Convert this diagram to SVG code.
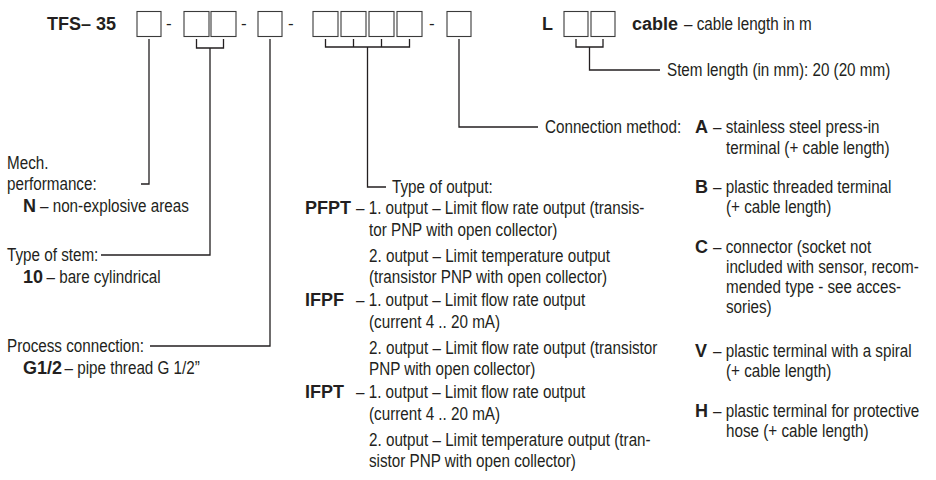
<svg xmlns="http://www.w3.org/2000/svg" width="936" height="480" viewBox="0 0 936 480">
<style>
text{font-family:"Liberation Sans",Arial,sans-serif;font-size:17.5px;fill:#231f20}
.b{font-weight:bold;font-size:18px}
.d{font-size:17px}
.box{fill:none;stroke:#3a3a3a;stroke-width:1.1}
.ln{fill:none;stroke:#231f20;stroke-width:1.3}
</style>
<rect width="936" height="480" fill="#fff"/>
<g id="code">
<text x="47" y="30" class="b" font-size="17.5">TFS– 35</text>
<rect class="box" x="137" y="11.5" width="24" height="25"/>
<text x="166" y="29" class="d">-</text>
<rect class="box" x="184" y="11.5" width="25" height="25"/>
<rect class="box" x="211" y="11.5" width="25" height="25"/>
<text x="241" y="29" class="d">-</text>
<rect class="box" x="258" y="11.5" width="24" height="25"/>
<text x="288" y="29" class="d">-</text>
<rect class="box" x="313" y="11.5" width="25" height="25"/>
<rect class="box" x="341" y="11.5" width="25" height="25"/>
<rect class="box" x="369" y="11.5" width="25" height="25"/>
<rect class="box" x="397" y="11.5" width="25" height="25"/>
<text x="429" y="29" class="d">-</text>
<rect class="box" x="447" y="11.5" width="24" height="25"/>
<text x="542" y="30" class="b" font-size="17">L</text>
<rect class="box" x="564" y="11.5" width="24" height="25"/>
<rect class="box" x="591" y="11.5" width="24" height="25"/>
</g>
<g id="cable">
<text x="632" y="30" class="b" font-size="20">cable</text>
<text transform="translate(684 30) scale(.87 1)" font-size="21">– cable length in m</text>
</g>
<g id="stem-length">
<text transform="translate(667 76) scale(.87 1)">Stem length (in mm): 20 (20 mm)</text>
</g>
<g id="mech">
<text transform="translate(7 169) scale(.87 1)">Mech.</text>
<text transform="translate(7 190) scale(.87 1)">performance:</text>
<text x="23" y="212" class="b">N</text>
<text transform="translate(40 212) scale(.87 1)">– non-explosive areas</text>
</g>
<g id="stem-type">
<text transform="translate(7 261) scale(.87 1)">Type of stem:</text>
<text x="23" y="283" class="b">10</text>
<text transform="translate(46.5 283) scale(.87 1)">– bare cylindrical</text>
</g>
<g id="process">
<text transform="translate(7 352) scale(.87 1)">Process connection:</text>
<text x="23" y="374" class="b">G1/2</text>
<text transform="translate(64.5 374) scale(.87 1)">– pipe thread G 1/2”</text>
</g>
<g id="output">
<text transform="translate(392 193) scale(.87 1)">Type of output:</text>
<text x="305" y="214" class="b">PFPT</text>
<text transform="translate(356 214) scale(.87 1)">– 1. output – Limit flow rate output (transis-</text>
<text transform="translate(369 236) scale(.87 1)">tor PNP with open collector)</text>
<text transform="translate(369 262) scale(.87 1)">2. output – Limit temperature output</text>
<text transform="translate(369 283) scale(.87 1)">(transistor PNP with open collector)</text>
<text x="305" y="306" class="b">IFPF</text>
<text transform="translate(356 306) scale(.87 1)">– 1. output – Limit flow rate output</text>
<text transform="translate(369 328) scale(.87 1)">(current 4 .. 20 mA)</text>
<text transform="translate(369 354) scale(.87 1)">2. output – Limit flow rate output (transistor</text>
<text transform="translate(369 375) scale(.87 1)">PNP with open collector)</text>
<text x="305" y="398" class="b">IFPT</text>
<text transform="translate(356 398) scale(.87 1)">– 1. output – Limit flow rate output</text>
<text transform="translate(369 420) scale(.87 1)">(current 4 .. 20 mA)</text>
<text transform="translate(369 446) scale(.87 1)">2. output – Limit temperature output (tran-</text>
<text transform="translate(369 467) scale(.87 1)">sistor PNP with open collector)</text>
</g>
<g id="connection">
<text transform="translate(545 133) scale(.87 1)">Connection method:</text>
<text x="695" y="133" class="b">A</text>
<text transform="translate(713 133) scale(.87 1)">– stainless steel press-in</text>
<text transform="translate(726 154) scale(.87 1)">terminal (+ cable length)</text>
<text x="695" y="193" class="b">B</text>
<text transform="translate(713 193) scale(.87 1)">– plastic threaded terminal</text>
<text transform="translate(726 213) scale(.87 1)">(+ cable length)</text>
<text x="695" y="253" class="b">C</text>
<text transform="translate(713 253) scale(.87 1)">– connector (socket not</text>
<text transform="translate(726 273) scale(.87 1)">included with sensor, recom-</text>
<text transform="translate(726 293) scale(.87 1)">mended type - see acces-</text>
<text transform="translate(726 313) scale(.87 1)">sories)</text>
<text x="695" y="357" class="b">V</text>
<text transform="translate(713 357) scale(.87 1)">– plastic terminal with a spiral</text>
<text transform="translate(726 377) scale(.87 1)">(+ cable length)</text>
<text x="695" y="417" class="b">H</text>
<text transform="translate(713 417) scale(.87 1)">– plastic terminal for protective</text>
<text transform="translate(726 437) scale(.87 1)">hose (+ cable length)</text>
</g>
<g id="connectors" class="ln">
<path d="M149 39V184H141"/>
<path d="M196.5 39V48H223.5V39M210 48V255H101"/>
<path d="M270 39V346H150"/>
<path d="M325.5 39V47H409.5V39M353.5 39V47M381.5 39V47M367.5 47V187H386"/>
<path d="M459 39V127H538"/>
<path d="M576 39V47H603V39M589.5 47V70H660"/>
</g>
</svg>
